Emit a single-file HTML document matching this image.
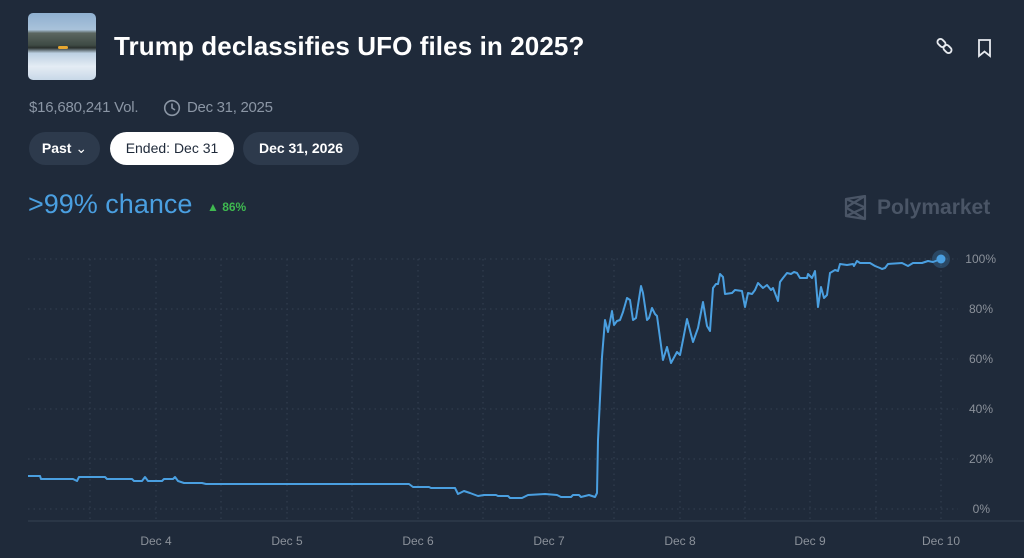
<!DOCTYPE html>
<html><head><meta charset="utf-8"><style>
html,body{margin:0;padding:0;width:1024px;height:558px;overflow:hidden;background:#1f2a3a;font-family:"Liberation Sans",sans-serif;}
.a{position:absolute;white-space:nowrap;}
.pill{position:absolute;top:132px;height:33px;border-radius:17px;background:#2d3a4c;color:#fff;font-size:14px;font-weight:bold;line-height:33px;text-align:center;}
</style></head><body>
<div class="a" style="left:28px;top:13px;width:68px;height:67px;border-radius:5px;overflow:hidden;background:linear-gradient(#8fb0d0 0%,#a9c2da 25%,#5b6660 30%,#3e4a44 48%,#2a312e 52%,#bcd0e2 60%,#e4ecf4 80%,#c8d8e8 100%);">
<div style="position:absolute;left:30px;top:33px;width:10px;height:3px;background:#e8a830;border-radius:2px"></div></div>
<div class="a" style="left:114px;top:31px;font-size:26px;font-weight:bold;color:#fff;letter-spacing:0.1px;">Trump declassifies UFO files in 2025?</div>
<svg class="a" style="left:936px;top:37px" width="60" height="22" viewBox="0 0 60 22">
<g fill="none" stroke="#e6e9ee" stroke-width="1.8"><rect x="1" y="3" width="9" height="6" rx="3" transform="rotate(45 5.5 6)"/><rect x="7" y="9" width="9" height="6" rx="3" transform="rotate(45 11.5 12)"/>
<path d="M43 3h11v16l-5.5-4.5L43 19z"/></g></svg>
<div class="a" style="left:29px;top:99px;font-size:15px;color:#8b96a5;letter-spacing:-0.2px;">$16,680,241 Vol.</div>
<svg class="a" style="left:163px;top:99px" width="18" height="18"><circle cx="9" cy="9" r="7.3" fill="none" stroke="#8b96a5" stroke-width="1.6"/><path d="M9 4.5V9l3 2" fill="none" stroke="#8b96a5" stroke-width="1.6"/></svg>
<div class="a" style="left:187px;top:99px;font-size:15px;color:#8b96a5;letter-spacing:-0.3px;">Dec 31, 2025</div>
<div class="pill" style="left:29px;width:71px;">Past <span style="font-weight:normal">&#8964;</span></div>
<div class="pill" style="left:110px;width:124px;background:#fff;color:#1f2a3a;font-weight:normal;">Ended: Dec 31</div>
<div class="pill" style="left:243px;width:116px;">Dec 31, 2026</div>
<div class="a" style="left:28px;top:189px;font-size:27px;color:#4a9fe0;">&gt;99% chance</div>
<div class="a" style="left:207px;top:200px;font-size:12px;font-weight:bold;color:#3fb950;">&#9650; 86%</div>
<svg class="a" style="left:843px;top:195px" width="26" height="26"><path d="M3 4L22 1V24L3 21Z M3 4L22 12.5L3 21 M22 1 L3 12.5 L22 24" fill="none" stroke="#4a5566" stroke-width="2.2" stroke-linejoin="round"/></svg>
<div class="a" style="left:877px;top:196px;font-size:21px;font-weight:bold;color:#4a5566;">Polymarket</div>
<svg class="a" style="left:0;top:0" width="1024" height="558">
<g stroke="#344052" stroke-width="1" stroke-dasharray="1.5 4">
<line x1="28" y1="259" x2="958" y2="259"/><line x1="28" y1="309" x2="958" y2="309"/><line x1="28" y1="359" x2="958" y2="359"/><line x1="28" y1="409" x2="958" y2="409"/><line x1="28" y1="459" x2="958" y2="459"/><line x1="28" y1="509" x2="958" y2="509"/>
<line x1="90" y1="259" x2="90" y2="521"/><line x1="156" y1="259" x2="156" y2="521"/><line x1="221" y1="259" x2="221" y2="521"/><line x1="287" y1="259" x2="287" y2="521"/><line x1="352" y1="259" x2="352" y2="521"/><line x1="418" y1="259" x2="418" y2="521"/><line x1="483" y1="259" x2="483" y2="521"/><line x1="549" y1="259" x2="549" y2="521"/><line x1="614" y1="259" x2="614" y2="521"/><line x1="680" y1="259" x2="680" y2="521"/><line x1="745" y1="259" x2="745" y2="521"/><line x1="810" y1="259" x2="810" y2="521"/><line x1="876" y1="259" x2="876" y2="521"/><line x1="941" y1="259" x2="941" y2="521"/>
</g>
<line x1="28" y1="521" x2="1024" y2="521" stroke="#364152" stroke-width="1"/>
<g font-size="12" fill="#8b919a" text-anchor="end">
<text x="996" y="263">100%</text><text x="993" y="313">80%</text><text x="993" y="363">60%</text><text x="993" y="413">40%</text><text x="993" y="463">20%</text><text x="990" y="513">0%</text></g>
<g font-size="12" fill="#8b919a" text-anchor="middle">
<text x="156" y="545">Dec 4</text><text x="287" y="545">Dec 5</text><text x="418" y="545">Dec 6</text><text x="549" y="545">Dec 7</text><text x="680" y="545">Dec 8</text><text x="810" y="545">Dec 9</text><text x="941" y="545">Dec 10</text></g>
<polyline fill="none" stroke="#4a9fe0" stroke-width="2" stroke-linejoin="round" points="28,476 40,476 41,479 73,479 77,481 79,477 105,477 107,479 132,479 134,481 142,481 145,477 148,481 162,481 164,479 173,479 175,477 178,481 184,483 202,483 206,484 409,484 413,487 429,487 431,488 455,488 458,494 464,491 470,493 478,496 484,495 496,495 498,496 508,496 510,498 522,498 528,495 545,494 557,495 561,497 571,497 573,495 579,495 581,497 589,495 595,497 597,493 598,440 602,357 605,320 608,332 612,311 614,325 617,321 620,320 623,312 627,298 630,300 633,320 636,318 641,286 643,293 647,320 649,318 652,308 655,314 657,316 663,360 667,347 671,363 677,352 680,355 683,340 687,319 693,342 698,328 703,302 707,326 710,331 713,288 716,284 718,284 720,274 723,277 725,294 732,293 735,290 742,291 745,307 748,293 752,294 755,290 758,283 763,288 767,285 771,290 773,288 778,301 780,282 783,278 787,273 791,274 794,272 797,273 800,278 807,278 808,274 812,278 815,271 818,307 821,287 824,298 827,295 830,273 835,270 838,271 840,264 847,265 853,264 854,266 857,261 860,263 870,263 875,266 880,268 882,269 885,268 888,264 902,263 908,266 913,263 922,263 928,261 933,262 941,259"/>
<circle cx="941" cy="259" r="9" fill="#4a9fe0" opacity="0.25"/>
<circle cx="941" cy="259" r="4.5" fill="#4a9fe0"/>
</svg>
</body></html>
